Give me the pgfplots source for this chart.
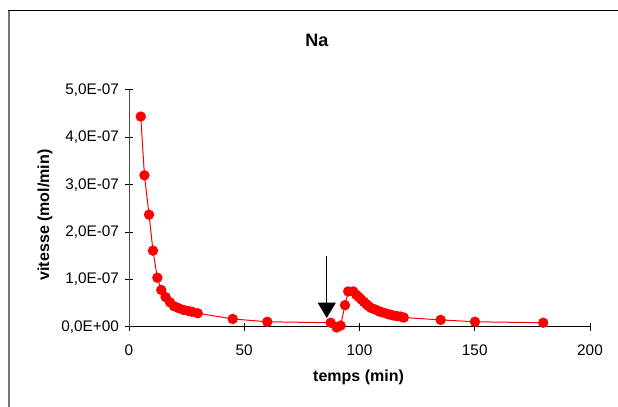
\documentclass[border=0pt]{standalone}
\usepackage{pgfplots}
\pgfplotsset{compat=1.18}
\usepackage{pgfplotstable}
\usepackage{fontspec}
\setmainfont{Liberation Sans}
\usetikzlibrary{arrows.meta}
\pgfplotstableread{
t v
5.1 4.44e-7
6.7 3.20e-7
8.7 2.37e-7
10.4 1.61e-7
12.3 1.04e-7
14.0 0.78e-7
15.9 0.63e-7
17.8 0.52e-7
19.5 0.44e-7
21.4 0.40e-7
23.6 0.36e-7
25.7 0.34e-7
27.3 0.32e-7
29.8 0.29e-7
45 0.17e-7
60 0.11e-7
87.5 0.09e-7
90.1 -0.01e-7
91.8 0.03e-7
93.7 0.46e-7
95.1 0.75e-7
97.3 0.75e-7
98.6 0.68e-7
99.7 0.63e-7
100.8 0.58e-7
101.9 0.53e-7
103.0 0.48e-7
104.0 0.44e-7
105.1 0.40e-7
106.2 0.38e-7
107.3 0.36e-7
108.4 0.33e-7
109.8 0.31e-7
111.3 0.29e-7
112.4 0.27e-7
113.4 0.26e-7
114.9 0.24e-7
116.3 0.23e-7
117.8 0.22e-7
119.2 0.20e-7
135.2 0.15e-7
150.1 0.11e-7
179.7 0.09e-7
}\datatable
\begin{document}
\begin{tikzpicture}
\useasboundingbox (0,0) rectangle (463.5pt,305.25pt);
\draw[black!55, line width=1.5pt] (6.4pt,0) -- (6.4pt,297.5pt);
\draw[black, line width=0.8pt] (5.65pt,297.5pt) -- (463.5pt,297.5pt);
\begin{axis}[
  at={(96.75pt,60pt)}, anchor=south west,
  scale only axis, width=345.75pt, height=177.75pt,
  xmin=0, xmax=200, ymin=0, ymax=5e-7,
  clip=false,
  axis lines=left,
  axis line style={-, line width=0.75pt},
  x axis line style={black},
  y axis line style={black!70},
  tick align=center,
  major tick length=6pt,
  tick style={black, line width=0.75pt},
  xtick={0,50,100,150,200},
  xticklabels={0,50,100,150,200},
  ytick={0,1e-7,2e-7,3e-7,4e-7,5e-7},
  yticklabels={{0,0E+00},{1,0E-07},{2,0E-07},{3,0E-07},{4,0E-07},{5,0E-07}},
  scaled y ticks=false,
  /pgf/number format/assume math mode=true,
  ticklabel style={font=\fontsize{11.5}{13}\selectfont},
  xticklabel style={yshift=-6.5pt},
  yticklabel style={xshift=-1pt},
]
\addplot[red, line width=0.75pt, mark=*, mark size=3.5pt, mark options={fill=red, draw=red}] table[x=t, y=v] {\datatable};
\draw[black, line width=0.8pt, -{Triangle[width=13.5pt, length=11.5pt]}] (axis cs:85.8,1.49e-7) -- (axis cs:85.8,0.19e-7);
\end{axis}
\node[font=\bfseries\fontsize{13.5}{15}\selectfont] at (237.75pt,275.25pt) {Na};
\node[font=\bfseries\fontsize{12}{14}\selectfont] at (268.9pt,22.5pt) {temps (min)};
\node[font=\bfseries\fontsize{12}{14}\selectfont, rotate=90] at (33.75pt,144pt) {vitesse (mol/min)};
\end{tikzpicture}
\end{document}
